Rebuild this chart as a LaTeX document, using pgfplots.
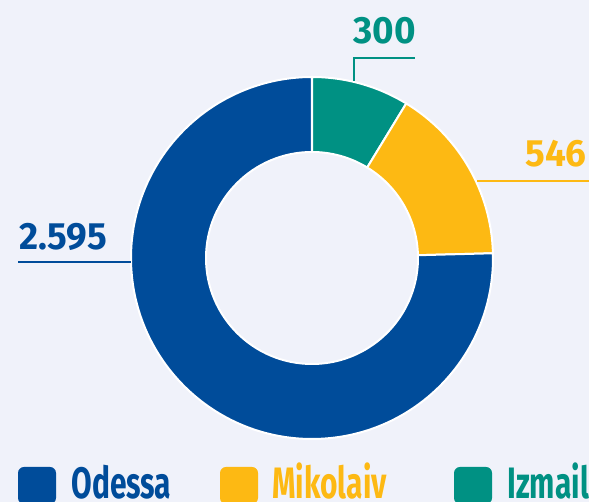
\documentclass[border=0pt]{standalone}
\usepackage{pgfplots}
\pgfplotsset{compat=1.18}
\usepackage{pgfplotstable}
\usepackage{fontspec}
\setmainfont{Fira Sans}
\newfontfamily\numfont[FakeStretch=0.97]{Fira Sans}
\newfontfamily\legfont[FakeStretch=0.68]{Fira Sans}
\definecolor{bg}{HTML}{F0F2FA}
\definecolor{cBlue}{HTML}{004C9A}
\definecolor{cYel}{HTML}{FDB913}
\definecolor{cTeal}{HTML}{009183}
\pgfplotstableread{
city value
Izmail 300
Mikolaiv 546
Odessa 2595
}\data
\begin{document}
\begin{tikzpicture}
\pgfplotstablegetelem{0}{value}\of\data \let\vA\pgfplotsretval
\pgfplotstablegetelem{1}{value}\of\data \let\vB\pgfplotsretval
\pgfplotstablegetelem{2}{value}\of\data \let\vC\pgfplotsretval
\pgfmathsetmacro\total{\vA+\vB+\vC}
\pgfmathsetmacro\sA{90}
\pgfmathsetmacro\eA{\sA-360*(\vA/\total)}
\pgfmathsetmacro\eB{\eA-360*(\vB/\total)}
\pgfmathsetmacro\eC{\eB-360*(\vC/\total)}
\useasboundingbox (0,0) rectangle (294.5pt,251pt);
\fill[bg] (0,0) rectangle (294.5pt,251pt);
\begin{pgfinterruptboundingbox}
\begin{axis}[anchor=south west, at={(0pt,0pt)}, x=0.5pt,y=0.5pt,xmin=0,xmax=589,ymin=0,ymax=502,hide axis,clip=false]
% donut wedges
\fill[cTeal, draw=white, line width=1pt] (axis cs:312,244) ++(\sA:90.5pt) arc[start angle=\sA,end angle=\eA,radius=90.5pt] -- ++(\eA:-37.5pt) arc[start angle=\eA,end angle=\sA,radius=53pt] -- cycle;
\fill[cYel, draw=white, line width=1pt] (axis cs:312,244) ++(\eA:90.5pt) arc[start angle=\eA,end angle=\eB,radius=90.5pt] -- ++(\eB:-37.5pt) arc[start angle=\eB,end angle=\eA,radius=53pt] -- cycle;
\fill[cBlue, draw=white, line width=1pt] (axis cs:312,244) ++(\eB:90.5pt) arc[start angle=\eB,end angle=\eC,radius=90.5pt] -- ++(\eC:-37.5pt) arc[start angle=\eC,end angle=\eB,radius=53pt] -- cycle;
% leader lines
\draw[cTeal, line width=1pt] (axis cs:354,421) -- (axis cs:354,444) -- (axis cs:415,444);
\draw[cYel, line width=1pt] (axis cs:477,321) -- (axis cs:589,321);
\draw[cBlue, line width=1pt] (axis cs:18,240) -- (axis cs:131,240);
% value labels
\node[anchor=base west, inner sep=0pt, text=cBlue, font=\numfont\bfseries\fontsize{19}{19}\selectfont] at (axis cs:19,252) {2.595};
\node[anchor=base west, inner sep=0pt, text=cTeal, font=\numfont\bfseries\fontsize{19}{19}\selectfont] at (axis cs:353,458) {300};
\node[anchor=base west, inner sep=0pt, text=cYel, font=\numfont\bfseries\fontsize{19}{19}\selectfont] at (axis cs:525,335) {546};
% legend
\fill[cBlue, rounded corners=3pt] (axis cs:18,-2) rectangle (axis cs:56,35);
\fill[cYel, rounded corners=3pt] (axis cs:220,-2) rectangle (axis cs:258,35);
\fill[cTeal, rounded corners=3pt] (axis cs:454,-2) rectangle (axis cs:492,35);
\node[anchor=base west, inner sep=0pt, text=cBlue, font=\legfont\bfseries\fontsize{22}{22}\selectfont] at (axis cs:71,3) {Odessa};
\node[anchor=base west, inner sep=0pt, text=cYel, font=\legfont\bfseries\fontsize{22}{22}\selectfont] at (axis cs:272,3) {Mikolaiv};
\node[anchor=base west, inner sep=0pt, text=cTeal, font=\legfont\bfseries\fontsize{22}{22}\selectfont] at (axis cs:507,3) {Izmail};
\end{axis}
\end{pgfinterruptboundingbox}
\end{tikzpicture}
\end{document}
